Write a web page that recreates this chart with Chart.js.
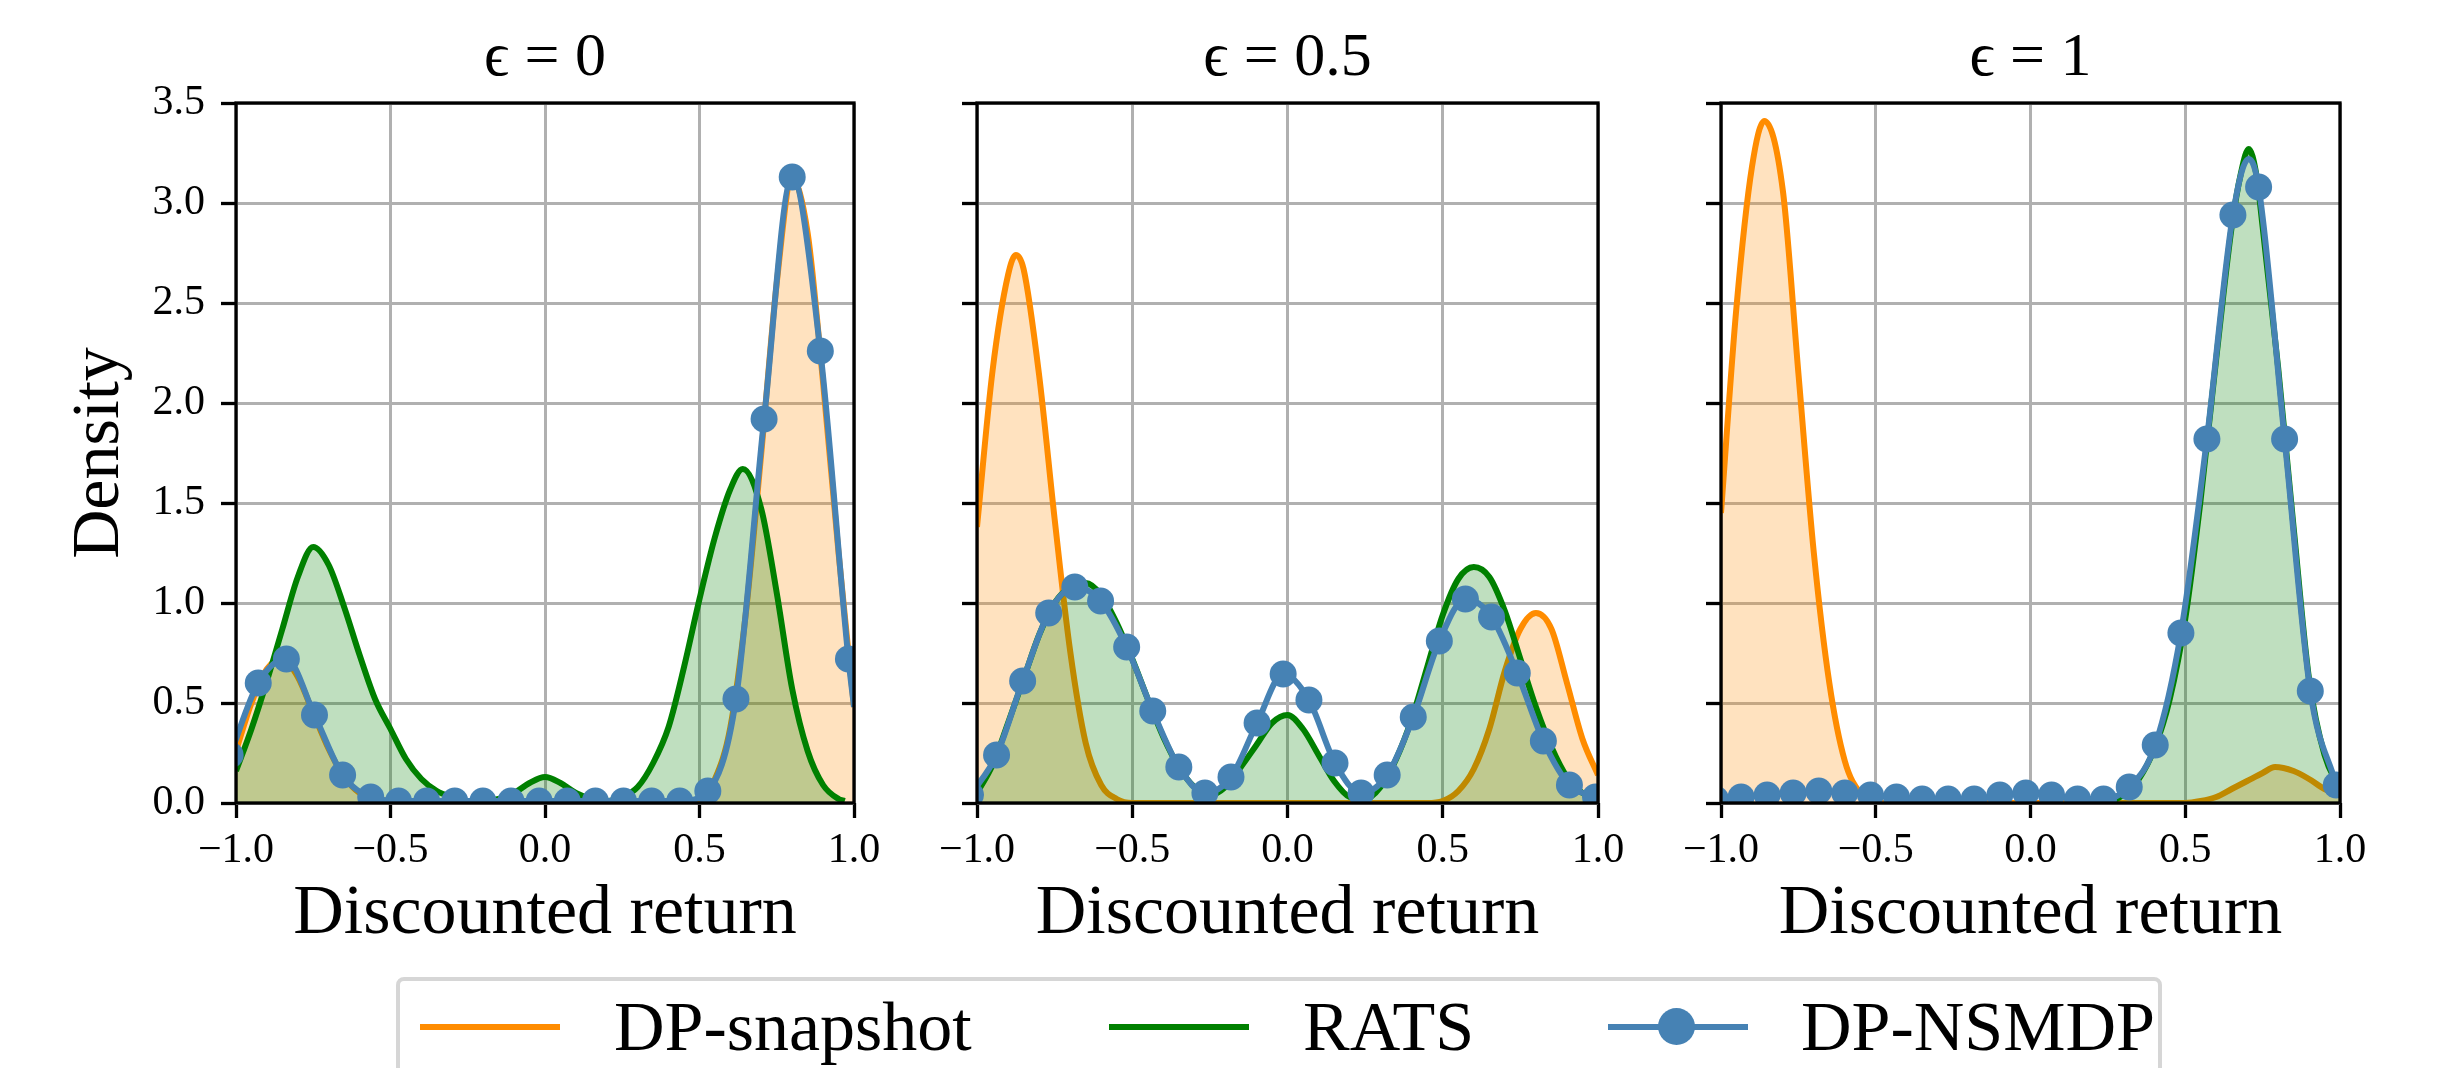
<!DOCTYPE html>
<html>
<head>
<meta charset="utf-8">
<title>Discounted return densities</title>
<script src="https://cdn.jsdelivr.net/npm/chart.js@4.4.1/dist/chart.umd.min.js"></script>
<style>
  body { margin: 0; background: #fff; }
  #fig { position: relative; width: 2452px; height: 1068px; overflow: hidden;
         font-family: 'Liberation Serif', 'DejaVu Serif', serif; color: #000; }
  #fig canvas { position: absolute; left: 0; top: 0; }
  #legend { position: absolute; left: 396px; top: 977px; width: 1766px; height: 140px;
            border: 4px solid #d6d6d6; border-radius: 8px; box-sizing: border-box; background: #fff; }
  .swatch { position: absolute; top: 1024px; width: 140px; height: 6px; }
  .dot { position: absolute; left: 1658px; top: 1008px; width: 37px; height: 37px;
         border-radius: 50%; background: #4682b4; }
  .ltext { position: absolute; top: 992px; font-size: 70px; line-height: 70px; white-space: nowrap; }
</style>
</head>
<body>
<div id="fig">
  <canvas id="p0" width="2452" height="1068"></canvas>
  <canvas id="p1" width="2452" height="1068"></canvas>
  <canvas id="p2" width="2452" height="1068"></canvas>
  <div id="legend"></div>
  <div class="swatch" style="left:420px;background:#ff8c00"></div>
  <div class="ltext" style="left:614px">DP-snapshot</div>
  <div class="swatch" style="left:1109px;background:#008000"></div>
  <div class="ltext" style="left:1303px">RATS</div>
  <div class="swatch" style="left:1608px;background:#4682b4"></div>
  <div class="dot"></div>
  <div class="ltext" style="left:1801px">DP-NSMDP</div>
</div>
<script>
// panel titles (epsilon values)
const titles = ['\u03f5 = 0', '\u03f5 = 0.5', '\u03f5 = 1'];
const xTicks = [-1, -0.5, 0, 0.5, 1];
const yTicks = [0, 0.5, 1, 1.5, 2, 2.5, 3, 3.5];

// epsilon = 0
const snap0 = [[-1.00, 0.26], [-0.95, 0.50], [-0.90, 0.67], [-0.85, 0.72], [-0.80, 0.63], [-0.75, 0.45],
  [-0.70, 0.27], [-0.65, 0.13], [-0.60, 0.05], [-0.55, 0.02], [-0.50, 0.01], [-0.45, 0], [0.45, 0],
  [0.50, 0.02], [0.55, 0.12], [0.60, 0.38], [0.65, 0.95], [0.70, 1.75], [0.75, 2.60], [0.80, 3.12],
  [0.85, 2.85], [0.90, 2.10], [0.95, 1.25], [1.00, 0.48]];
const rats0 = [[-1.00, 0.16], [-0.95, 0.37], [-0.90, 0.61], [-0.85, 0.87], [-0.80, 1.13], [-0.75, 1.28],
  [-0.70, 1.19], [-0.65, 0.98], [-0.60, 0.74], [-0.55, 0.52], [-0.50, 0.37], [-0.45, 0.22], [-0.40, 0.12],
  [-0.35, 0.06], [-0.30, 0.03], [-0.25, 0.01], [-0.20, 0.01], [-0.15, 0.02], [-0.10, 0.05], [-0.05, 0.10],
  [0.00, 0.13], [0.05, 0.10], [0.10, 0.05], [0.15, 0.02], [0.20, 0.01], [0.25, 0.03], [0.30, 0.08],
  [0.35, 0.20], [0.40, 0.38], [0.45, 0.68], [0.50, 1.02], [0.55, 1.33], [0.60, 1.57], [0.64, 1.67],
  [0.70, 1.47], [0.75, 1.05], [0.80, 0.57], [0.85, 0.26], [0.90, 0.09], [0.95, 0.02], [0.97, 0.01]];
const nsmdp0 = [[-1.019, 0.24], [-0.928, 0.60], [-0.837, 0.72], [-0.746, 0.44], [-0.655, 0.14], [-0.564, 0.03],
  [-0.474, 0.01], [-0.383, 0.01], [-0.292, 0.01], [-0.201, 0.01], [-0.110, 0.01], [-0.019, 0.01],
  [0.072, 0.01], [0.163, 0.01], [0.254, 0.01], [0.345, 0.01], [0.436, 0.01], [0.527, 0.06], [0.618, 0.52],
  [0.709, 1.92], [0.800, 3.13], [0.891, 2.26], [0.982, 0.72]];
const nsmdp0Line = [[1.00, 0.48]];

// epsilon = 0.5
const snap05 = [[-1.00, 1.38], [-0.95, 2.16], [-0.90, 2.64], [-0.875, 2.74], [-0.85, 2.67], [-0.80, 2.14],
  [-0.75, 1.42], [-0.70, 0.76], [-0.65, 0.30], [-0.60, 0.09], [-0.55, 0.02], [-0.50, 0], [0.45, 0],
  [0.50, 0.01], [0.55, 0.06], [0.60, 0.17], [0.65, 0.37], [0.70, 0.66], [0.75, 0.87], [0.80, 0.95],
  [0.85, 0.87], [0.90, 0.60], [0.95, 0.32], [1.00, 0.14]];
const rats05 = [[-1.00, 0.05], [-0.95, 0.19], [-0.90, 0.40], [-0.85, 0.62], [-0.80, 0.84], [-0.75, 1.00],
  [-0.70, 1.08], [-0.65, 1.10], [-0.60, 1.04], [-0.55, 0.90], [-0.50, 0.72], [-0.45, 0.52], [-0.40, 0.33],
  [-0.35, 0.18], [-0.30, 0.08], [-0.25, 0.04], [-0.20, 0.08], [-0.15, 0.18], [-0.10, 0.29], [-0.05, 0.40],
  [0.00, 0.44], [0.05, 0.37], [0.10, 0.24], [0.15, 0.11], [0.20, 0.03], [0.25, 0.02], [0.30, 0.08],
  [0.35, 0.22], [0.40, 0.42], [0.45, 0.68], [0.50, 0.94], [0.55, 1.12], [0.60, 1.18], [0.65, 1.13],
  [0.70, 0.96], [0.75, 0.72], [0.80, 0.48], [0.85, 0.28], [0.90, 0.13], [0.95, 0.05], [1.00, 0.01]];
const nsmdp05 = [[-1.021, 0.04], [-0.937, 0.24], [-0.853, 0.61], [-0.769, 0.95], [-0.685, 1.08], [-0.602, 1.01],
  [-0.518, 0.78], [-0.434, 0.46], [-0.350, 0.18], [-0.266, 0.05], [-0.182, 0.13], [-0.098, 0.40],
  [-0.014, 0.645], [0.069, 0.515], [0.153, 0.20], [0.237, 0.05], [0.321, 0.14], [0.405, 0.43],
  [0.489, 0.81], [0.573, 1.02], [0.657, 0.93], [0.740, 0.65], [0.824, 0.31], [0.908, 0.09], [0.992, 0.03]];
const nsmdp05Line = [];

// epsilon = 1
const snap1 = [[-1.00, 1.45], [-0.95, 2.48], [-0.90, 3.18], [-0.86, 3.41], [-0.80, 3.06], [-0.75, 2.15],
  [-0.70, 1.25], [-0.65, 0.60], [-0.60, 0.21], [-0.55, 0.05], [-0.50, 0.01], [-0.45, 0], [0.50, 0],
  [0.55, 0.01], [0.60, 0.03], [0.65, 0.07], [0.70, 0.11], [0.75, 0.15], [0.79, 0.18], [0.85, 0.16],
  [0.90, 0.12], [0.95, 0.07], [1.00, 0.04]];
const rats1 = [[0.25, 0.0], [0.30, 0.04], [0.35, 0.12], [0.40, 0.27], [0.45, 0.52], [0.50, 0.92],
  [0.55, 1.52], [0.60, 2.22], [0.65, 2.88], [0.68, 3.15], [0.705, 3.27], [0.73, 3.14], [0.75, 2.88],
  [0.80, 2.18], [0.85, 1.38], [0.90, 0.62], [0.95, 0.24], [1.00, 0.07]];
const nsmdp1 = [[-1.018, 0.02], [-0.935, 0.03], [-0.851, 0.04], [-0.767, 0.05], [-0.684, 0.06], [-0.600, 0.05],
  [-0.517, 0.04], [-0.433, 0.03], [-0.350, 0.02], [-0.266, 0.02], [-0.182, 0.02], [-0.099, 0.04],
  [-0.015, 0.05], [0.068, 0.04], [0.152, 0.02], [0.236, 0.02], [0.319, 0.08], [0.403, 0.29],
  [0.486, 0.85], [0.570, 1.82], [0.654, 2.94], [0.737, 3.08], [0.821, 1.82], [0.904, 0.56], [0.988, 0.09]];
const nsmdp1Line = [[0.705, 3.22]];

const FONT = "'Liberation Serif', 'DejaVu Serif', serif";

function pts(arr) {
  return arr.map(([x, y]) => ({ x: x, y: y }));
}

// markers plus the extra (unmarked) points of the smooth line
function bluePts(marks, extra) {
  const all = marks.map(([x, y]) => ({ x: x, y: y, mark: true }))
    .concat(extra.map(([x, y]) => ({ x: x, y: y, mark: false })));
  return all.sort((a, b) => a.x - b.x);
}

// black box around the plot area (matplotlib spines)
const frame = {
  id: 'frame',
  afterDatasetsDraw(chart) {
    const { ctx, chartArea: a } = chart;
    ctx.save();
    ctx.strokeStyle = '#000';
    ctx.lineWidth = 3.3;
    ctx.strokeRect(a.left, a.top, a.right - a.left, a.bottom - a.top);
    ctx.restore();
  }
};

function makePanel(id, title, snap, rats, marks, extra, area, first) {
  const yWidth = first ? area.left : 40;
  const grid = { color: '#b0b0b0', lineWidth: 3, tickColor: '#000', tickWidth: 3.3, tickLength: 15 };
  return new Chart(document.getElementById(id), {
    type: 'line',
    data: {
      datasets: [
        {
          label: 'DP-NSMDP',
          data: bluePts(marks, extra),
          borderColor: '#4682b4',
          borderWidth: 6,
          fill: false,
          pointRadius: (c) => (c.raw && c.raw.mark ? 13.5 : 0),
          pointBackgroundColor: '#4682b4',
          pointBorderWidth: 0,
          cubicInterpolationMode: 'monotone',
          clip: 0,
          order: 1,
        },
        {
          label: 'RATS',
          data: pts(rats),
          borderColor: '#008000',
          backgroundColor: 'rgba(0, 128, 0, 0.25)',
          borderWidth: 6,
          fill: 'origin',
          pointRadius: 0,
          cubicInterpolationMode: 'monotone',
          clip: 0,
          order: 2,
        },
        {
          label: 'DP-snapshot',
          data: pts(snap),
          borderColor: '#ff8c00',
          backgroundColor: 'rgba(255, 140, 0, 0.25)',
          borderWidth: 6,
          fill: 'origin',
          pointRadius: 0,
          cubicInterpolationMode: 'monotone',
          clip: 0,
          order: 3,
        },
      ],
    },
    options: {
      responsive: false,
      animation: false,
      devicePixelRatio: 1,
      events: [],
      layout: { padding: { left: area.left - yWidth, right: 2452 - area.right, top: 0, bottom: 0 } },
      scales: {
        x: {
          type: 'linear',
          min: xTicks[0],
          max: xTicks[xTicks.length - 1],
          afterBuildTicks: (s) => { s.ticks = xTicks.map((v) => ({ value: v })); },
          ticks: {
            color: '#000',
            padding: 8,
            maxRotation: 0,
            autoSkip: false,
            font: { family: FONT, size: 42 },
            callback: (v) => v.toFixed(1).replace('-', '\u2212'),
          },
          grid: grid,
          border: { display: false },
          title: {
            display: true,
            text: 'Discounted return',
            color: '#000',
            font: { family: FONT, size: 70, lineHeight: 1 },
            padding: { top: 0, bottom: 118 },
          },
          afterFit: (s) => { s.height = 265; },
        },
        y: {
          type: 'linear',
          min: yTicks[0],
          max: yTicks[yTicks.length - 1],
          afterBuildTicks: (s) => { s.ticks = yTicks.map((v) => ({ value: v })); },
          ticks: {
            color: '#000',
            padding: 16,
            font: { family: FONT, size: 42 },
            callback: (v) => (first ? v.toFixed(1) : ''),
          },
          grid: grid,
          border: { display: false },
          title: {
            display: first,
            text: 'Density',
            color: '#000',
            font: { family: FONT, size: 68, lineHeight: 1 },
            padding: { top: 66, bottom: 0 },
          },
          afterFit: (s) => { s.width = yWidth; },
        },
      },
      plugins: {
        legend: { display: false },
        tooltip: { enabled: false },
        title: {
          display: true,
          text: title,
          fullSize: false,
          color: '#000',
          font: { family: FONT, size: 62, weight: 'normal', lineHeight: 1 },
          padding: { top: 28, bottom: 13 },
        },
      },
    },
    plugins: [frame],
  });
}

makePanel('p0', titles[0], snap0, rats0, nsmdp0, nsmdp0Line, { left: 236, right: 854 }, true);
makePanel('p1', titles[1], snap05, rats05, nsmdp05, nsmdp05Line, { left: 977, right: 1598 }, false);
makePanel('p2', titles[2], snap1, rats1, nsmdp1, nsmdp1Line, { left: 1721, right: 2340 }, false);
</script>
</body>
</html>
